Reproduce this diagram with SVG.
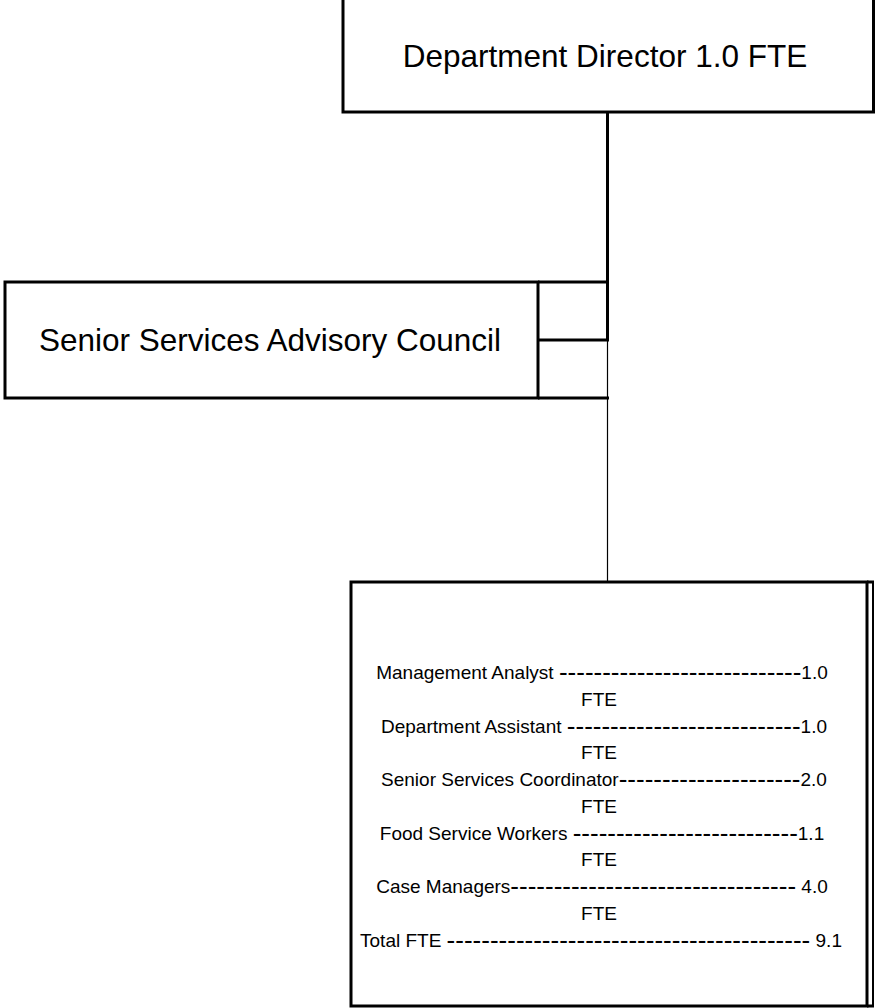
<svg xmlns="http://www.w3.org/2000/svg" width="875" height="1008" viewBox="0 0 875 1008">
<style>
.box{fill:#fff;stroke:#000;stroke-width:3}
.ln{fill:none;stroke:#000;stroke-width:3}
.thin{fill:none;stroke:#000;stroke-width:1.2}
.big{font-family:"Liberation Sans",Arial,sans-serif;font-size:31.5px;fill:#000;text-anchor:middle}
.sm{font-family:"Liberation Sans",Arial,sans-serif;font-size:19px;fill:#000;text-anchor:middle}
.d{font-size:26px}
</style>
<rect width="875" height="1008" fill="#fff"/>
<g id="connectors">
<path class="ln" d="M607.5,112 V340"/>
<path class="ln" d="M538,340 H609"/>
<path class="thin" d="M607.5,340 V582"/>
</g>
<g id="director">
<rect class="box" x="343" y="-10" width="530.5" height="122"/>
<text class="big" x="605" y="67">Department Director 1.0 FTE</text>
</g>
<g id="council">
<rect class="box" x="5" y="282" width="533" height="116"/>
<path class="ln" d="M538,282 H609 M538,398 H609"/>
<text class="big" x="270" y="351">Senior Services Advisory Council</text>
</g>
<g id="staff">
<rect class="box" x="351" y="582" width="516" height="424"/>
<path class="ln" d="M867,582 H874 M867,1006 H874"/>
<path fill="none" stroke="#000" stroke-width="2" d="M873,582 V1007"/>
<text class="sm" x="602" y="679">Management Analyst <tspan class="d" dy="1.9">----------------------------</tspan><tspan dy="-1.9">1.0</tspan></text>
<text class="sm" x="599" y="706">FTE</text>
<text class="sm" x="604" y="733">Department Assistant <tspan class="d" dy="1.9">---------------------------</tspan><tspan dy="-1.9">1.0</tspan></text>
<text class="sm" x="599" y="759">FTE</text>
<text class="sm" x="604" y="786">Senior Services Coordinator<tspan class="d" dy="1.9">---------------------</tspan><tspan dy="-1.9">2.0</tspan></text>
<text class="sm" x="599" y="813">FTE</text>
<text class="sm" x="602" y="840">Food Service Workers <tspan class="d" dy="1.9">--------------------------</tspan><tspan dy="-1.9">1.1</tspan></text>
<text class="sm" x="599" y="866">FTE</text>
<text class="sm" x="602" y="893">Case Managers<tspan class="d" dy="1.9">---------------------------------</tspan><tspan dy="-1.9"> 4.0</tspan></text>
<text class="sm" x="599" y="920">FTE</text>
<text class="sm" x="601" y="947">Total FTE <tspan class="d" dy="1.9">------------------------------------------</tspan><tspan dy="-1.9"> 9.1</tspan></text>
</g>
</svg>
